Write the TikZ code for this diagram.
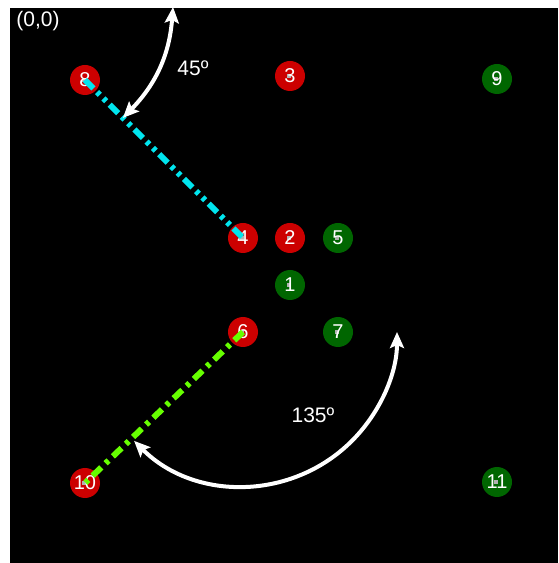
\documentclass[tikz,border=0pt]{standalone}
\usepackage{fontspec}
\setmainfont{Liberation Sans}
\usepackage{tikz}
\usetikzlibrary{arrows.meta,calc}

\definecolor{ptred}{HTML}{CC0000}
\definecolor{ptgreen}{HTML}{006600}
\definecolor{linecyan}{HTML}{00E5EE}
\definecolor{linelime}{HTML}{66FF00}

\begin{document}
\begin{tikzpicture}[x=1pt, y=1pt,
    ball/.style={circle, minimum size=30pt, inner sep=0pt, text=white,
        font=\fontsize{20}{20}\selectfont,
        path picture={\fill[gray!60] ($(path picture bounding box.center)+(-3,-2)$) rectangle +(4,4);}},
    angarrow/.style={white, line width=4pt,
        {Stealth[length=16pt,width=14pt,inset=3pt]}-{Stealth[length=16pt,width=14pt,inset=3pt]}},
    lbl/.style={text=white, font=\fontsize{21}{21}\selectfont},
]
\fill[white] (0,0) rectangle (558,563);
\useasboundingbox (0,0) rectangle (558,563);
\fill[black] (10,0) rectangle (558,555);

\node[lbl] (origin) at (38,542) {(0,0)};

% points
\foreach \n/\x/\y/\c in {8/85/483/ptred, 3/290/487/ptred, 9/497/484/ptgreen,
                          4/243/325/ptred, 2/290/325/ptred, 5/338/325/ptgreen,
                          1/290/278/ptgreen, 6/243/231/ptred, 7/338/231/ptgreen,
                          10/85/80/ptred, 11/497/81/ptgreen} {
    \node[ball, fill=\c] (n\n) at (\x,\y) {\n};
}

% lines
\draw[linecyan, line width=6pt, dash pattern=on 12pt off 5pt on 4pt off 5pt on 4pt off 5pt]
    (n8.center) -- (n4.center);
\draw[linelime, line width=6pt, dash pattern=on 12pt off 6pt on 4pt off 6pt]
    (n6.center) -- (n10.center);

% 45
\coordinate (top45) at (173,556);
\coordinate (on84) at ($(n8)!0.24!(n4)$);
\draw[angarrow] (top45) to[bend left=20] (on84);
\node[lbl] (a45) at (193,495) {45º};

% 135
\draw[angarrow] ($(n6)+(-135:154)$) arc[start angle=-135, end angle=0, radius=154];
\node[lbl] (a135) at (313,148) {135º};
\end{tikzpicture}
\end{document}
